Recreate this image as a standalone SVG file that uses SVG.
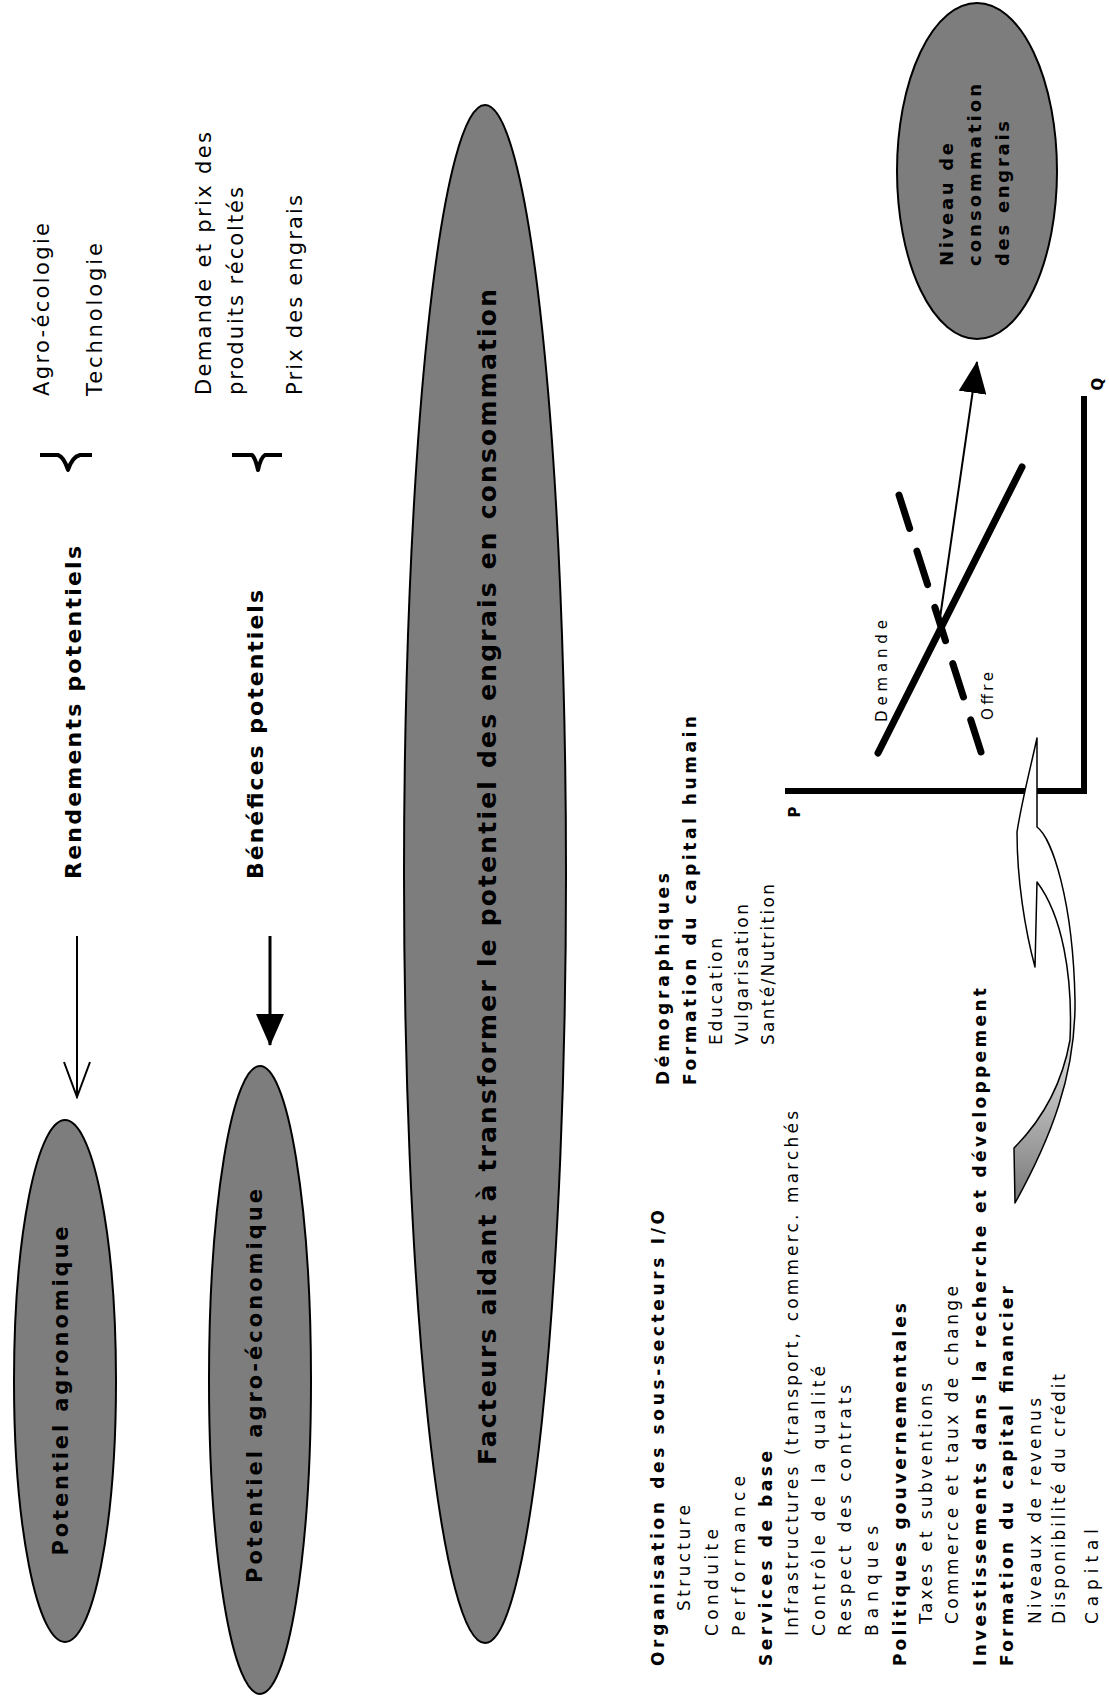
<svg xmlns="http://www.w3.org/2000/svg" width="1109" height="1696" viewBox="0 0 1109 1696">
<defs>
<style>
text{font-family:"DejaVu Sans",Verdana,sans-serif;fill:#000}
.b{font-weight:bold}
.r16{font-size:17px}
.b16{font-size:17px;font-weight:bold}
.t20{font-size:21px}
.b21{font-size:22px;font-weight:bold}
.ell{fill:#7d7d7d;stroke:#000;stroke-width:2}
.et{font-weight:bold;text-anchor:middle}
.brace{fill:none;stroke:#000;stroke-width:4;stroke-linejoin:round}
.axis{stroke:#000;stroke-width:6;fill:none}
</style>
<marker id="tri" markerUnits="userSpaceOnUse" markerWidth="32" markerHeight="28" viewBox="0 0 32 28" refX="31" refY="14" orient="auto"><path d="M0,0 L32,14 L0,28 Z" fill="#000"/></marker>
<marker id="vee" markerUnits="userSpaceOnUse" markerWidth="38" markerHeight="30" viewBox="0 0 38 30" refX="36" refY="15" orient="auto"><path d="M1,2 L36,15 L1,28" fill="none" stroke="#000" stroke-width="2"/></marker>
<linearGradient id="grad" gradientUnits="userSpaceOnUse" x1="0" y1="1200" x2="0" y2="990"><stop offset="0" stop-color="#7a7a7a"/><stop offset="1" stop-color="#fff"/></linearGradient>
</defs>
<rect width="1109" height="1696" fill="#fff"/>

<g id="n-agronomique">
<ellipse class="ell" cx="65" cy="1381" rx="51" ry="261"/>
<text class="et" font-size="21" transform="translate(68,1391) rotate(-90)" textLength="329" lengthAdjust="spacing">Potentiel agronomique</text>
</g>
<g id="n-agroeconomique">
<ellipse class="ell" cx="260" cy="1380" rx="51" ry="314"/>
<text class="et" font-size="21" transform="translate(262,1386) rotate(-90)" textLength="394" lengthAdjust="spacing">Potentiel agro-économique</text>
</g>
<g id="n-facteurs">
<ellipse class="ell" cx="485" cy="874" rx="81" ry="769"/>
<text class="et" font-size="25" transform="translate(496,877) rotate(-90)" textLength="1176" lengthAdjust="spacing">Facteurs aidant à transformer le potentiel des engrais en consommation</text>
</g>
<g id="n-niveau">
<ellipse class="ell" cx="977" cy="171" rx="80" ry="168"/>
<text class="b" font-size="18" transform="translate(953,266) rotate(-90)" textLength="123" lengthAdjust="spacing">Niveau de</text>
<text class="b" font-size="18" transform="translate(981,266) rotate(-90)" textLength="182" lengthAdjust="spacing">consommation</text>
<text class="b" font-size="18" transform="translate(1009,266) rotate(-90)" textLength="145" lengthAdjust="spacing">des engrais</text>
</g>

<g id="n-rendements">
<text class="b21" transform="translate(81,879) rotate(-90)" textLength="333" lengthAdjust="spacing">Rendements potentiels</text>
</g>
<g id="n-benefices">
<text class="b21" transform="translate(263,879) rotate(-90)" textLength="289" lengthAdjust="spacing">Bénéfices potentiels</text>
</g>
<g id="n-facteurs-rendements">
<path class="brace" d="M40,455 L58,455 Q64,457 68,470 Q72,457 80,455 L92,455"/>
<text class="t20" transform="translate(49,396) rotate(-90)" textLength="173" lengthAdjust="spacing">Agro-écologie</text>
<text class="t20" transform="translate(102,396) rotate(-90)" textLength="153" lengthAdjust="spacing">Technologie</text>
</g>
<g id="n-facteurs-benefices">
<path class="brace" d="M232,455 L252,455 Q255,457 258,470 Q261,457 265,455 L282,455"/>
<text class="t20" transform="translate(211,395) rotate(-90)" textLength="263" lengthAdjust="spacing">Demande et prix des</text>
<text class="t20" transform="translate(243,395) rotate(-90)" textLength="208" lengthAdjust="spacing">produits récoltés</text>
<text class="t20" transform="translate(302,395) rotate(-90)" textLength="200" lengthAdjust="spacing">Prix des engrais</text>
</g>

<g id="n-liste-humain">
<text class="b16" transform="translate(669,1085) rotate(-90)" textLength="212" lengthAdjust="spacing">Démographiques</text>
<text class="b16" transform="translate(696,1085) rotate(-90)" textLength="369" lengthAdjust="spacing">Formation du capital humain</text>
<text class="r16" transform="translate(722,1045) rotate(-90)" textLength="107" lengthAdjust="spacing">Education</text>
<text class="r16" transform="translate(748,1045) rotate(-90)" textLength="141" lengthAdjust="spacing">Vulgarisation</text>
<text class="r16" transform="translate(774,1045) rotate(-90)" textLength="161" lengthAdjust="spacing">Santé/Nutrition</text>
</g>

<g id="n-liste-secteurs">
<text class="b16" transform="translate(664,1666) rotate(-90)" textLength="456" lengthAdjust="spacing">Organisation des sous-secteurs I/O</text>
<text class="r16" transform="translate(690,1611) rotate(-90)" textLength="106" lengthAdjust="spacing">Structure</text>
<text class="r16" transform="translate(718,1636) rotate(-90)" textLength="107" lengthAdjust="spacing">Conduite</text>
<text class="r16" transform="translate(745,1636) rotate(-90)" textLength="160" lengthAdjust="spacing">Performance</text>
<text class="b16" transform="translate(772,1666) rotate(-90)" textLength="215" lengthAdjust="spacing">Services de base</text>
<text class="r16" transform="translate(798,1636) rotate(-90)" textLength="525" lengthAdjust="spacing">Infrastructures (transport, commerc. marchés</text>
<text class="r16" transform="translate(825,1636) rotate(-90)" textLength="270" lengthAdjust="spacing">Contrôle de la qualité</text>
<text class="r16" transform="translate(851,1636) rotate(-90)" textLength="251" lengthAdjust="spacing">Respect des contrats</text>
<text class="r16" transform="translate(878,1636) rotate(-90)" textLength="110" lengthAdjust="spacing">Banques</text>
<text class="b16" transform="translate(906,1666) rotate(-90)" textLength="363" lengthAdjust="spacing">Politiques gouvernementales</text>
<text class="r16" transform="translate(932,1624) rotate(-90)" textLength="241" lengthAdjust="spacing">Taxes et subventions</text>
<text class="r16" transform="translate(958,1624) rotate(-90)" textLength="338" lengthAdjust="spacing">Commerce et taux de change</text>
<text class="b16" transform="translate(986,1666) rotate(-90)" textLength="678" lengthAdjust="spacing">Investissements dans la recherche et développement</text>
<text class="b16" transform="translate(1013,1666) rotate(-90)" textLength="380" lengthAdjust="spacing">Formation du capital financier</text>
<text class="r16" transform="translate(1041,1624) rotate(-90)" textLength="226" lengthAdjust="spacing">Niveaux de revenus</text>
<text class="r16" transform="translate(1065,1624) rotate(-90)" textLength="250" lengthAdjust="spacing">Disponibilité du crédit</text>
<text class="r16" transform="translate(1098,1624) rotate(-90)" textLength="95" lengthAdjust="spacing">Capital</text>
</g>

<g id="n-graphique">
<path class="axis" d="M785,791 L1084,791 L1084,396"/>
<text class="b" font-size="15" text-anchor="middle" transform="translate(800,812) rotate(-90)">P</text>
<text class="b" font-size="15" text-anchor="middle" transform="translate(1103,384) rotate(-90)">Q</text>
<line x1="1022" y1="467" x2="878" y2="753" stroke="#000" stroke-width="7" stroke-linecap="round"/>
<line x1="899" y1="495" x2="981" y2="752" stroke="#000" stroke-width="7" stroke-linecap="round" stroke-dasharray="35 24"/>
<text font-size="15" transform="translate(887,722) rotate(-90)" textLength="102" lengthAdjust="spacing">Demande</text>
<text font-size="15" transform="translate(993,720) rotate(-90)" textLength="48" lengthAdjust="spacing">Offre</text>
</g>

<g id="n-fleche-courbe">
<path d="M1037,738 L1037,827 C1052,838 1073,900 1075,1000 C1076,1075 1050,1140 1015,1203 L1014,1148 C1042,1120 1062,1085 1070,1040 C1073,975 1062,915 1037,882 L1035,967 C1025,930 1017,880 1017,832 C1022,800 1030,770 1037,738 Z" fill="url(#grad)" stroke="#000" stroke-width="1.5" stroke-linejoin="round"/>
</g>

<g id="connecteurs">
<line x1="77" y1="936" x2="77" y2="1097" stroke="#000" stroke-width="2" marker-end="url(#vee)"/>
<line x1="270" y1="936" x2="270" y2="1045" stroke="#000" stroke-width="3" marker-end="url(#tri)"/>
<line x1="940" y1="618" x2="977" y2="362" stroke="#000" stroke-width="2" marker-end="url(#tri)"/>
</g>
</svg>
